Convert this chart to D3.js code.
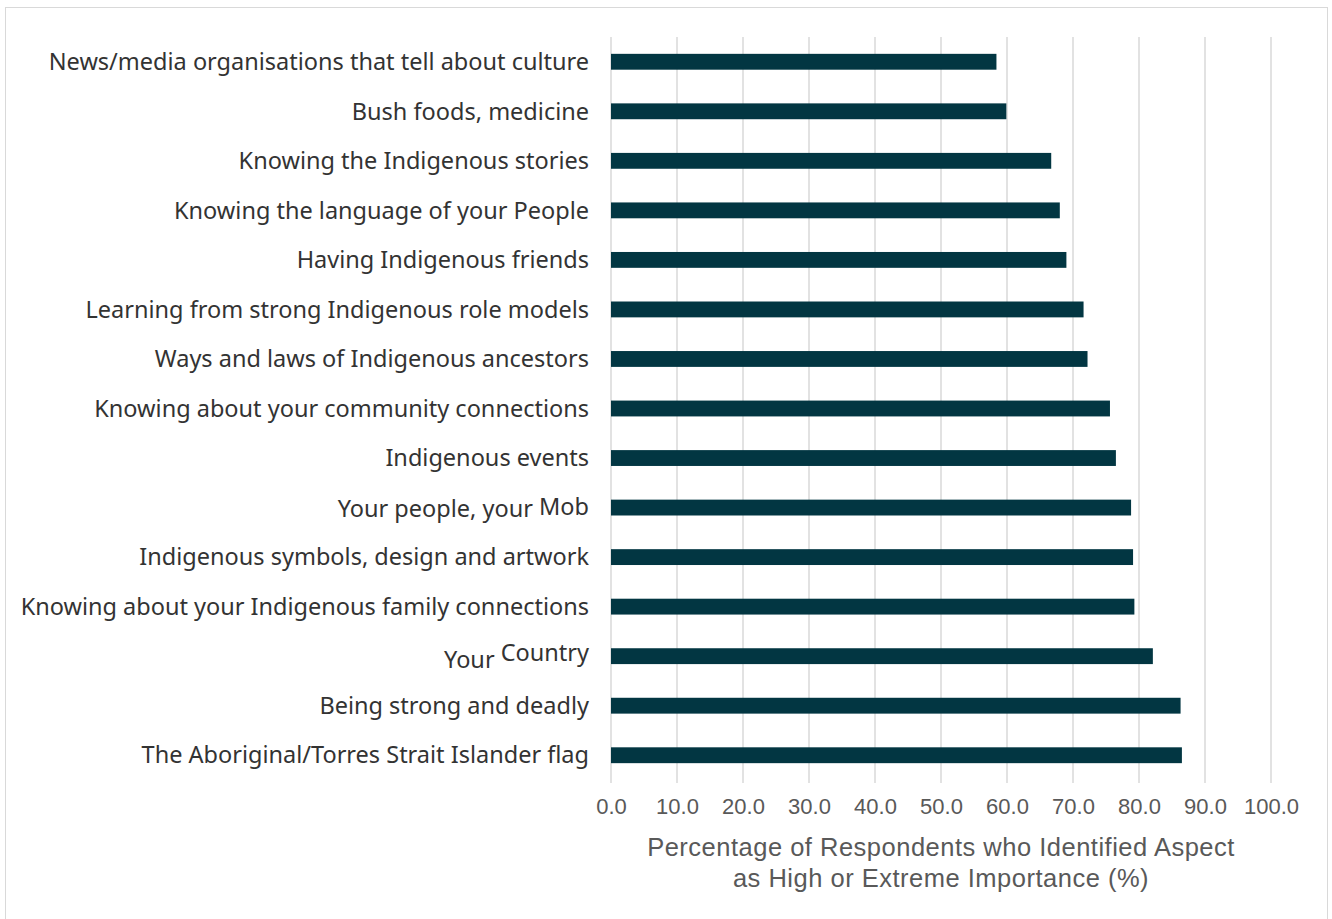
<!DOCTYPE html>
<html>
<head>
<meta charset="utf-8">
<script src="https://cdn.jsdelivr.net/npm/d3@7"></script>
<style>
  body { margin: 0; background: #fff; }
  .cat-label { font-family: "Noto Sans", sans-serif; font-size: 23.5px; fill: #333; }
  .tick text { font-family: "Liberation Sans", Arial, sans-serif; font-size: 22px; fill: #595959; }
  .axis-title { font-family: "Liberation Sans", Arial, sans-serif; font-size: 25.5px; letter-spacing: 0.5px; fill: #595959; }
</style>
</head>
<body>
<svg id="chart" width="1332" height="919"></svg>
<script>
// categories top to bottom
const categories = [
  "News/media organisations that tell about culture",
  "Bush foods, medicine",
  "Knowing the Indigenous stories",
  "Knowing the language of your People",
  "Having Indigenous friends",
  "Learning from strong Indigenous role models",
  "Ways and laws of Indigenous ancestors",
  "Knowing about your community connections",
  "Indigenous events",
  "Your people, your Mob",
  "Indigenous symbols, design and artwork",
  "Knowing about your Indigenous family connections",
  "Your Country",
  "Being strong and deadly",
  "The Aboriginal/Torres Strait Islander flag"
];
const values = [58.4, 59.9, 66.7, 68.0, 69.0, 71.6, 72.2, 75.6, 76.5, 78.8, 79.1, 79.3, 82.1, 86.3, 86.5];
const xTicks = [0, 10, 20, 30, 40, 50, 60, 70, 80, 90, 100];
const xTitle = ["Percentage of Respondents who Identified Aspect", "as High or Extreme Importance (%)"];

const data = categories.map((c, i) => ({ category: c, value: values[i] }));

const svg = d3.select('#chart');
const width = +svg.attr('width');
const height = +svg.attr('height');
const margin = { top: 37, right: 61, bottom: 139, left: 611 };
const innerWidth = width - margin.left - margin.right;
const innerHeight = height - margin.top - margin.bottom;

// outer chart border (bottom edge runs past the frame)
svg.append('rect')
  .attr('x', 5.5).attr('y', 7.5)
  .attr('width', 1322).attr('height', height + 10)
  .attr('fill', '#fff')
  .attr('stroke', '#d9d9d9');

const chart = svg.append('g')
  .attr('transform', `translate(${margin.left},${margin.top})`);

const xScale = d3.scaleLinear().domain([0, 100]).range([0, innerWidth]);
const yScale = d3.scaleBand().domain(categories).range([0, innerHeight]).paddingInner(0.68).paddingOuter(0.34);

// gridlines
chart.append('g')
  .selectAll('line')
  .data(xTicks)
  .join('line')
    .attr('x1', d => xScale(d)).attr('x2', d => xScale(d))
    .attr('y1', 0).attr('y2', innerHeight + 3)
    .attr('stroke', '#d9d9d9')
    .attr('stroke-width', 1.5);

// x axis labels
const xAxis = d3.axisBottom(xScale)
  .tickValues(xTicks)
  .tickFormat(d3.format('.1f'))
  .tickSize(0)
  .tickPadding(18);
const xAxisG = chart.append('g')
  .attr('transform', `translate(0,${innerHeight})`)
  .call(xAxis);
xAxisG.select('.domain').remove();

// bars
chart.append('g')
  .selectAll('rect')
  .data(data)
  .join('rect')
    .attr('x', 0)
    .attr('y', d => yScale(d.category))
    .attr('width', d => xScale(d.value))
    .attr('height', yScale.bandwidth())
    .attr('fill', '#023642');

// category labels (a couple of the originals have a raised word)
const raised = { "Your Country": ["Your ", "Country"], "Your people, your Mob": ["Your people, your ", "Mob"] };
const labels = chart.append('g')
  .selectAll('text')
  .data(data)
  .join('text')
    .attr('class', 'cat-label')
    .attr('text-anchor', 'end')
    .attr('x', -22)
    .attr('y', d => yScale(d.category) + yScale.bandwidth() / 2)
    .attr('dy', '0.35em');
labels.each(function(d) {
  const t = d3.select(this);
  if (raised[d.category]) {
    const [a, b] = raised[d.category];
    t.append('tspan').text(a).attr('dy', d.category === 'Your Country' ? '0.5em' : '0.4em');
    t.append('tspan').text(b).attr('dy', d.category === 'Your Country' ? '-0.3em' : '-0.1em');
  } else {
    t.text(d.category);
  }
});

// axis title
chart.append('text')
  .attr('class', 'axis-title')
  .attr('text-anchor', 'middle')
  .attr('x', xScale(50))
  .attr('y', innerHeight + 76)
  .selectAll('tspan')
  .data(xTitle)
  .join('tspan')
    .attr('x', xScale(50))
    .attr('dy', (d, i) => i === 0 ? 0 : 31)
    .text(d => d);
</script>
</body>
</html>
